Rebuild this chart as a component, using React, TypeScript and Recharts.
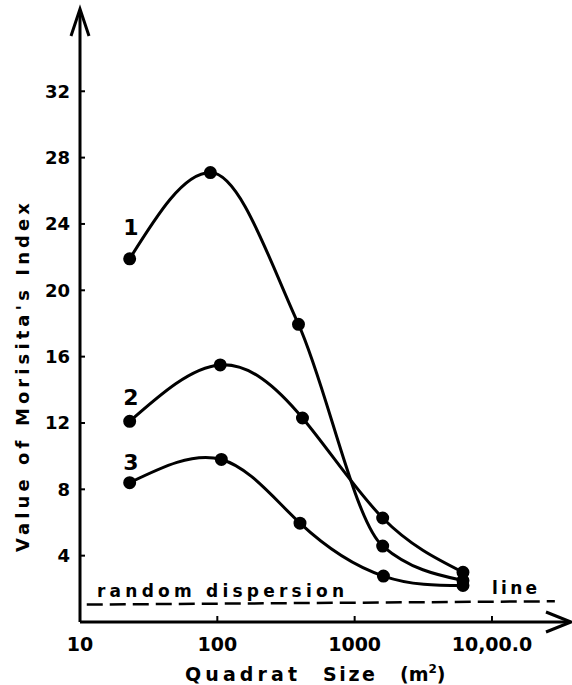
import React from 'react';
import { ComposedChart, Line, XAxis, YAxis, ReferenceLine } from 'recharts';

const xTicks = [10, 100, 1000, 10000];
const xTickLabels = ['10', '100', '1000', '10,00.0'];
const yTicks = [4, 8, 12, 16, 20, 24, 28, 32];

const series1X = [23, 89, 390, 1600, 6150];
const series1Y = [21.9, 27.1, 17.95, 4.58, 2.5];
const series2X = [23, 105, 417, 1600, 6150];
const series2Y = [12.1, 15.5, 12.3, 6.27, 3.0];
const series3X = [23, 107, 400, 1620, 6150];
const series3Y = [8.4, 9.8, 5.96, 2.77, 2.2];

const randomLineX = [11.2, 28700];
const randomLineY = [1.05, 1.25];

const toData = (xs: number[], ys: number[]) => xs.map((x, i) => ({ x, y: ys[i] }));
const d1 = toData(series1X, series1Y);
const d2 = toData(series2X, series2Y);
const d3 = toData(series3X, series3Y);

const FONT = '"DejaVu Sans", sans-serif';

export default function App() {
  return (
    <div style={{ position: 'absolute', left: 0, top: 0, background: '#fff' }}>
      <ComposedChart
        width={572}
        height={685}
        margin={{ top: 10, right: 2, left: 0, bottom: 0 }}
      >
        <XAxis
          type="number"
          dataKey="x"
          scale="log"
          domain={[10, 37000]}
          ticks={xTicks}
          allowDataOverflow
          height={63}
          axisLine={{ stroke: '#000', strokeWidth: 3 }}
          tickLine={{ stroke: '#000', strokeWidth: 2 }}
          tickSize={-6}
          tickMargin={22}
          tickFormatter={(v: number) => xTickLabels[xTicks.indexOf(v)] ?? String(v)}
          tick={{ fill: '#000', fontSize: 19, fontWeight: 'bold', fontFamily: FONT }}
        />
        <YAxis
          type="number"
          dataKey="y"
          domain={[0, 36.9]}
          ticks={yTicks}
          allowDataOverflow
          width={80}
          axisLine={{ stroke: '#000', strokeWidth: 3 }}
          tickLine={{ stroke: '#000', strokeWidth: 2 }}
          tickSize={-5}
          tickMargin={15}
          tick={{ fill: '#000', fontSize: 18, fontWeight: 'bold', fontFamily: FONT }}
        />
        <ReferenceLine
          segment={[
            { x: randomLineX[0], y: randomLineY[0] },
            { x: randomLineX[1], y: randomLineY[1] },
          ]}
          stroke="#000"
          strokeWidth={2.5}
          strokeDasharray="16 7"
        />
        <Line data={d1} dataKey="y" type="monotoneX" stroke="#000" strokeWidth={3}
          dot={{ r: 5, fill: '#000', stroke: '#000' }} isAnimationActive={false} />
        <Line data={d2} dataKey="y" type="natural" stroke="#000" strokeWidth={3}
          dot={{ r: 5, fill: '#000', stroke: '#000' }} isAnimationActive={false} />
        <Line data={d3} dataKey="y" type="natural" stroke="#000" strokeWidth={3}
          dot={{ r: 5, fill: '#000', stroke: '#000' }} isAnimationActive={false} />
        {/* axis arrowheads */}
        <path d="M71 36 L80 9 L89 36" fill="none" stroke="#000" strokeWidth={3} />
        <path d="M546 612 L571 622 L546 632" fill="none" stroke="#000" strokeWidth={3} />
        {/* curve labels */}
        <text x={131} y={235} fontSize={22} fontWeight="bold" fontFamily={FONT} textAnchor="middle">1</text>
        <text x={131} y={405} fontSize={22} fontWeight="bold" fontFamily={FONT} textAnchor="middle">2</text>
        <text x={131} y={470} fontSize={22} fontWeight="bold" fontFamily={FONT} textAnchor="middle">3</text>
        {/* random dispersion line label */}
        <text x={97} y={597} fontSize={17} fontWeight="bold" fontFamily={FONT} textLength={247} lengthAdjust="spacing">random dispersion</text>
        <text x={492} y={594} fontSize={17} fontWeight="bold" fontFamily={FONT} textLength={45} lengthAdjust="spacing">line</text>
        {/* axis titles */}
        <text x={185} y={681} fontSize={19} fontWeight="bold" fontFamily={FONT}>
          <tspan textLength={112} lengthAdjust="spacing">Quadrat</tspan>
          <tspan x={323} textLength={52} lengthAdjust="spacing">Size</tspan>
          <tspan x={400}>(m</tspan>
          <tspan dy={-8} fontSize={12}>2</tspan>
          <tspan dy={8}>)</tspan>
        </text>
        <text x={0} y={0} transform="translate(29 552) rotate(-90)" fontSize={18} fontWeight="bold" fontFamily={FONT} textLength={349} lengthAdjust="spacing">Value of Morisita's Index</text>
      </ComposedChart>
    </div>
  );
}
